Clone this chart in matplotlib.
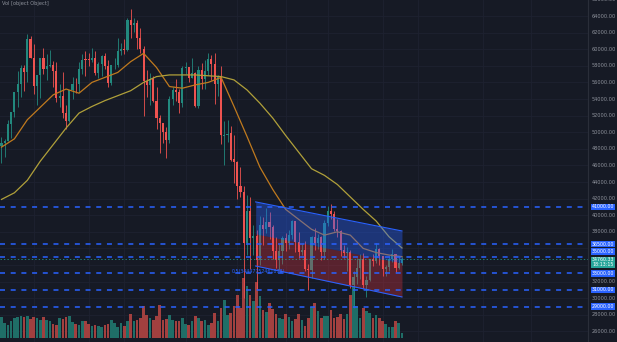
import numpy as np
import matplotlib
matplotlib.use("Agg")
import matplotlib.pyplot as plt
import matplotlib.transforms as mtransforms

plt.rcParams['lines.scale_dashes'] = False

# BTCUSDT daily candles, 5 Mar - 7 Jul 2021
opens = [48374, 48746, 48882, 50960, 52376, 54875, 55851, 57773, 57221, 61188,
         58976, 55605, 56900, 58912, 57641, 58030, 58100, 57351, 54083, 54342,
         52303, 51293, 55025, 55817, 55782, 57636, 58746, 58739, 58721, 58981,
         57094, 58202, 59129, 57990, 55953, 58077, 58142, 59778, 59996, 59860,
         63575, 62959, 63159, 61334, 60007, 56150, 55633, 56425, 53787, 51691,
         51110, 50048, 49004, 54030, 55033, 54825, 53556, 57697, 57797, 56578,
         57169, 53205, 57436, 56393, 57315, 58866, 58240, 55816, 56670, 49537,
         49671, 49845, 46716, 46427, 43538, 42850, 36671, 40526, 37253, 37449,
         34655, 38796, 38325, 39241, 38529, 35661, 34605, 35642, 37253, 36694,
         37568, 39246, 36829, 35516, 35796, 33556, 33380, 37389, 36697, 37340,
         35546, 39020, 40516, 40143, 38349, 38092, 35820, 35483, 35601, 31615,
         32509, 33675, 34663, 31576, 32243, 34703, 34494, 35912, 35046, 33503,
         33786, 34669, 35288, 33690, 34220]
highs = [49448, 49200, 51450, 52402, 54895, 57387, 58150, 58081, 61844, 61599,
         60633, 56938, 58982, 60100, 59468, 59880, 58589, 58430, 55830, 57200,
         53240, 55073, 56700, 56559, 58400, 59368, 59800, 59490, 60200, 59791,
         58500, 59300, 59500, 58650, 58153, 58894, 61300, 60800, 61200, 63777,
         64854, 63800, 63520, 62506, 60408, 57526, 57076, 56757, 55410, 52130,
         51167, 50567, 54356, 55466, 56428, 55200, 57963, 58458, 57911, 58973,
         57200, 57936, 58360, 58650, 59500, 59300, 59500, 56862, 58000, 51367,
         51483, 50700, 49720, 46565, 45799, 43546, 42451, 42200, 38831, 38270,
         39920, 39791, 40900, 40411, 38877, 37338, 36488, 37499, 37896, 38225,
         39476, 39289, 37925, 36480, 36900, 34069, 37534, 38491, 37680, 37439,
         39380, 41064, 41330, 40527, 39560, 38202, 36457, 36137, 35750, 33298,
         34881, 35298, 35500, 32730, 34749, 35297, 36600, 36100, 35057, 33977,
         34945, 35967, 35293, 35118, 35000]
lows = [46300, 47070, 48882, 49274, 51845, 53006, 54272, 54962, 56078, 58900,
        54600, 53271, 54120, 57023, 56270, 57820, 55450, 53650, 53000, 51700,
        50427, 51226, 53950, 54691, 54900, 57000, 56770, 57935, 58438, 56880,
        56478, 56800, 57600, 55473, 55700, 57654, 57900, 59360, 59369, 59770,
        61301, 62020, 60000, 59580, 52000, 54221, 53329, 53695, 50400, 47500,
        48677, 46930, 48753, 53222, 53813, 52330, 53013, 57052, 56035, 56478,
        53057, 52900, 55200, 55241, 56900, 56235, 53400, 54370, 48600, 46000,
        48800, 46555, 43825, 42001, 42250, 30000, 35250, 33488, 35200, 31111,
        34031, 36420, 37800, 37134, 34684, 33632, 33379, 34153, 35667, 35920,
        37170, 35555, 34800, 35258, 33300, 31000, 32397, 35782, 35936, 34600,
        34757, 38730, 39506, 38116, 37365, 35129, 34803, 33336, 31251, 28805,
        31683, 32286, 31275, 30151, 32071, 33862, 34225, 34017, 32711, 32699,
        33316, 34357, 33125, 33532, 34050]
closes = [48751, 48882, 50971, 52375, 54884, 55851, 57773, 57221, 61188, 58968,
          55605, 56900, 58912, 57648, 58030, 58102, 57351, 54083, 54340, 52303,
          51293, 55025, 55817, 55777, 57635, 58746, 58740, 58720, 58981, 57094,
          58202, 59129, 57991, 55953, 58077, 58142, 59769, 60002, 59860, 63575,
          62959, 63159, 61334, 60006, 56150, 55633, 56425, 53787, 51690, 51125,
          50047, 49004, 54021, 55034, 54824, 53556, 57697, 57797, 56578, 57169,
          53200, 57436, 56393, 57314, 58862, 58240, 55816, 56670, 49631, 49670,
          49841, 46708, 46426, 43538, 42850, 36671, 40526, 37252, 37449, 34655,
          38796, 38324, 39241, 38529, 35663, 34605, 35641, 37253, 36694, 37568,
          39246, 36829, 35513, 35796, 33552, 33380, 37388, 36675, 37313, 35546,
          39020, 40516, 40144, 38349, 38092, 35820, 35483, 35600, 31608, 32509,
          33678, 34663, 31594, 32243, 34700, 34494, 35911, 35045, 33504, 33786,
          34669, 35287, 33690, 34220, 34760.33]
# volume, thousands of BTC
volumes = [62, 45, 40, 52, 60, 64, 67, 64, 66, 57,
           64, 60, 55, 62, 54, 50, 42, 40, 60, 58,
           64, 67, 49, 42, 38, 50, 52, 42, 37, 40,
           37, 32, 40, 42, 54, 45, 32, 45, 37, 50,
           72, 50, 55, 60, 97, 70, 60, 55, 65, 99,
           55, 57, 70, 55, 50, 52, 60, 42, 38, 50,
           65, 60, 50, 55, 40, 45, 75, 50, 90, 115,
           70, 75, 95, 129, 90, 180, 157, 130, 110, 167,
           127, 84, 77, 105, 87, 72, 60, 57, 72, 64,
           52, 57, 72, 54, 37, 60, 94, 104, 82, 60,
           67, 67, 84, 60, 62, 72, 57, 72, 130, 157,
           97, 60, 90, 82, 74, 60, 70, 60, 52, 42,
           34, 34, 50, 44, 14]

# moving averages sampled every 4th bar
ma_idx = list(range(0, 125, 4))
ma20 = [48200, 49200, 51500, 53000, 54500, 55200, 54700, 56000, 56600, 57200,
        58500, 59500, 57800, 55500, 55300, 55700, 56000, 56600, 53100, 49500,
        45800, 43100, 40700, 39500, 38300, 37600, 38000, 37600, 36000, 35500,
        35200, 35000]
ma50 = [41900, 42700, 44200, 46500, 48500, 50500, 52300, 53100, 53800, 54400,
        55000, 56000, 56700, 56900, 56900, 56900, 56800, 56700, 56300, 55100,
        53500, 51700, 49600, 47600, 45600, 44800, 43700, 42200, 40700, 39300,
        37400, 36050]

levels = [41000, 36500, 35000, 33000, 31000, 29000]
price_ticks = list(range(26000, 66001, 2000))
hidden_ticks = [34000, 36000]  # covered by the level / last-price tags
time_grid = [10, 27, 38, 57, 73, 88, 101, 118, 129, 149, 164]
last_price = 34760.33
countdown = "18:13:15"

# parallel channel (bar index, price)
channel_idx = [78.7, 124.0]
channel_top = [41600, 38100]
channel_mid = [37740, 34240]
channel_bot = [33880, 30150]

BG = '#161a25'
GRID = '#1e2230'
UP = '#22897e'
DOWN = '#ef5350'
BLUE = '#2962ff'
TXT = '#8f939d'

W, H = 617, 342
plot_w = 588
fig = plt.figure(figsize=(W / 100, H / 100), dpi=100, facecolor=BG)
ax_vol = fig.add_axes([0, 0, plot_w / W, 1])
ax = fig.add_axes([0, 0, plot_w / W, 1], sharex=ax_vol)
ax_vol.set_facecolor(BG)
ax.patch.set_visible(False)

ax.set_xlim(-0.46, 181.6)
ax.set_ylim(24723, 65928)
ax_vol.set_ylim(-12, 1014)
for a in (ax, ax_vol):
    a.set_xticks([])
    a.set_yticks([])
    for s in a.spines.values():
        s.set_visible(False)
ax_vol.spines['right'].set_visible(True)
ax_vol.spines['right'].set_color('#2a2e39')
ax_vol.spines['right'].set_linewidth(0.8)

# grid
for p in price_ticks:
    ax_vol.axhline((p - 25205) / 120.5 * 3, color=GRID, lw=0.6, zorder=0)
for t in time_grid:
    ax_vol.axvline(t, color=GRID, lw=0.6, zorder=0)

idx = np.arange(len(closes))
o = np.array(opens, dtype=float)
c = np.array(closes, dtype=float)
up = c >= o
colors = np.where(up, UP, DOWN)
vol_colors = np.where(up, '#1f6e67', '#a2403f')

ax_vol.bar(idx, volumes, width=0.82, color=vol_colors, zorder=2)

ax.vlines(idx, lows, highs, colors=colors, lw=0.6, zorder=3)
ax.bar(idx, np.maximum(np.abs(c - o), 40), bottom=np.minimum(o, c),
       width=0.66, color=colors, zorder=3)

ax.plot(ma_idx, ma20, color='#c07a1e', lw=0.9, zorder=4)
ax.plot(ma_idx, ma50, color='#b0a03a', lw=0.9, zorder=4)

# channel
ax.fill_between(channel_idx, channel_mid, channel_top, color=BLUE,
                alpha=0.38, lw=0, zorder=5)
ax.fill_between(channel_idx, channel_bot, channel_mid, color='#f23645',
                alpha=0.3, lw=0, zorder=5)
ax.plot(channel_idx, channel_top, color=BLUE, lw=0.8, zorder=5)
ax.plot(channel_idx, channel_bot, color=BLUE, lw=0.8, zorder=5)
ax.text(channel_idx[0] - 7.3, channel_bot[0] - 620, "0.5(34447752461878)",
        color=BLUE, fontsize=3.4, ha='left', va='center', zorder=6)

# horizontal levels
for lv in levels:
    ax.axhline(lv, color=BLUE, lw=1.1, dashes=(3.6, 4.1), zorder=6)
ax.axhline(last_price, color='#26a69a', lw=0.5, ls=(0, (1, 1.5)), zorder=6)

# price scale
trans = mtransforms.blended_transform_factory(fig.transFigure, ax.transData)
for p in price_ticks:
    if p in levels or p in hidden_ticks:
        continue
    ax.text(592 / W, p, f"{p:.2f}", transform=trans, fontsize=3.6,
            color=TXT, ha='left', va='center', clip_on=False)
for lv in levels:
    tr = trans
    if lv == 35000:
        tr = trans + mtransforms.ScaledTranslation(0, 5 / 100, fig.dpi_scale_trans)
    ax.text(592 / W, lv, f"{lv:.2f}", transform=tr, fontsize=3.4,
            color='white', ha='left', va='center', clip_on=False,
            bbox=dict(boxstyle='square,pad=0.15', fc=BLUE, ec='none'))
tr = trans + mtransforms.ScaledTranslation(0, -3.8 / 100, fig.dpi_scale_trans)
ax.text(592 / W, last_price, f"{last_price:.2f}\n{countdown}", transform=tr,
        fontsize=3.4, color='white', ha='left', va='center', clip_on=False,
        linespacing=1.0,
        bbox=dict(boxstyle='square,pad=0.15', fc='#26a69a', ec='none'))

fig.text(2 / W, 1 - 3.5 / H, "Vol [object Object]", fontsize=3.6,
         color=TXT, ha='left', va='center')

fig.savefig("out.png", dpi=100, facecolor=BG)
